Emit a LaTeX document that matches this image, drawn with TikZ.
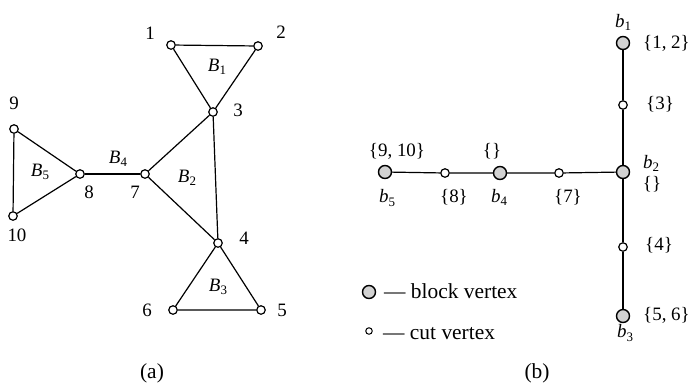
\documentclass[tikz,border=0pt]{standalone}
\usepackage{fontspec}
\setmainfont{Liberation Serif}
\newcommand\bsub[2]{\textit{#1}\raisebox{-0.35ex}{\fontsize{13}{14}\selectfont #2}}
\begin{document}
\begin{tikzpicture}[x=1bp,y=-1bp,
  every node/.style={font=\fontsize{19}{22}\selectfont},
  cutv/.style={circle,draw,line width=1.2bp,fill=white,minimum size=8.5bp,inner sep=0pt},
  blockv/.style={circle,draw,line width=1.4bp,fill=gray!35,minimum size=13bp,inner sep=0pt},
  smallcut/.style={circle,draw,line width=1bp,fill=white,minimum size=6.5bp,inner sep=0pt},
  lbl/.style={inner sep=0pt},
  legtext/.style={inner sep=0pt,font=\fontsize{21.5}{24}\selectfont},
  edge/.style={line width=1.2bp}]
\useasboundingbox (0,0) rectangle (693,384);
% panel (a)
\node[cutv] (v1) at (171,45) {};
\node[cutv] (v2) at (258,46) {};
\node[cutv] (v3) at (213,112) {};
\node[cutv] (v7) at (145,174) {};
\node[cutv] (v8) at (80,174) {};
\node[cutv] (v9) at (14,129) {};
\node[cutv] (v10) at (13,216) {};
\node[cutv] (v4) at (218,243) {};
\node[cutv] (v6) at (173,310) {};
\node[cutv] (v5) at (261,310) {};
\draw[edge] (v1) -- (v2) -- (v3) -- (v1);
\draw[edge] (v3) -- (v7) -- (v4) -- (v3);
\draw[edge] (v4) -- (v5) -- (v6) -- (v4);
\draw[edge] (v7) -- (v8);
\draw[edge] (v8) -- (v9) -- (v10) -- (v8);
\node[lbl] (l1) at (150,33) {1};
\node[lbl] (l2) at (281,32) {2};
\node[lbl] (l3) at (238,110) {3};
\node[lbl] (l9) at (14,103) {9};
\node[lbl] (l10) at (17,235) {10};
\node[lbl] (l8) at (89,192) {8};
\node[lbl] (l7) at (135,192) {7};
\node[lbl] (l4) at (244,238) {4};
\node[lbl] (l6) at (147,310) {6};
\node[lbl] (l5) at (282,310) {5};
\node[lbl] (B1) at (217,67) {\bsub{B}{1}};
\node[lbl] (B2) at (187,178) {\bsub{B}{2}};
\node[lbl] (B3) at (218,287) {\bsub{B}{3}};
\node[lbl] (B4) at (118,159) {\bsub{B}{4}};
\node[lbl] (B5) at (40,172) {\bsub{B}{5}};
\node[legtext] (capa) at (152,373) {(a)};
% panel (b)
\node[blockv] (b1) at (623,43) {};
\node[cutv] (c3) at (623,105) {};
\node[blockv] (b2) at (623,172) {};
\node[cutv] (c4) at (623,247) {};
\node[blockv] (b3) at (623,316) {};
\node[cutv] (c7) at (559,173) {};
\node[blockv] (b4) at (500,173) {};
\node[cutv] (c8) at (445,173) {};
\node[blockv] (b5) at (385,172) {};
\draw[edge] (b1) -- (c3) -- (b2) -- (c4) -- (b3);
\draw[edge] (b5) -- (c8) -- (b4) -- (c7) -- (b2);
\node[lbl] (tb1) at (623,22) {\bsub{b}{1}};
\node[lbl,anchor=west] (s12) at (643,43) {\{1, 2\}};
\node[lbl,anchor=west] (s3) at (646,104) {\{3\}};
\node[lbl] (tb2) at (651,163) {\bsub{b}{2}};
\node[lbl] (sb2) at (652,184) {\{\}};
\node[lbl] (s910) at (397,151) {\{9, 10\}};
\node[lbl] (sb4) at (492,151) {\{\}};
\node[lbl] (tb5) at (387,198) {\bsub{b}{5}};
\node[lbl] (s8) at (454,197) {\{8\}};
\node[lbl] (tb4) at (499,197) {\bsub{b}{4}};
\node[lbl] (s7) at (568,197) {\{7\}};
\node[lbl,anchor=west] (s4) at (645,245) {\{4\}};
\node[lbl,anchor=west] (s56) at (643,315) {\{5, 6\}};
\node[lbl] (tb3) at (625,333) {\bsub{b}{3}};
% legend
\node[blockv] (lgb) at (369,292) {};
\node[legtext,anchor=west] (lgbt) at (384,291) {--- block vertex};
\node[smallcut] (lgc) at (369,331) {};
\node[legtext,anchor=west] (lgct) at (383,334) {--- cut vertex};
\node[legtext] (capb) at (537,373) {(b)};
\end{tikzpicture}
\end{document}
